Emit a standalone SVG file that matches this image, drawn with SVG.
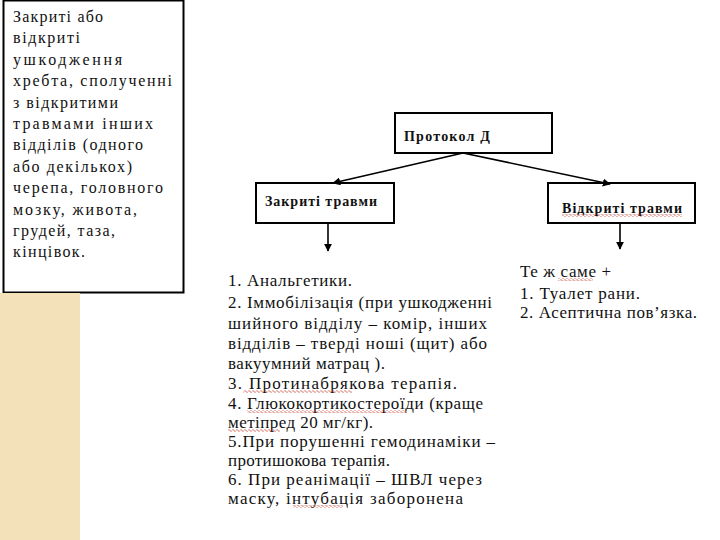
<svg xmlns="http://www.w3.org/2000/svg" width="720" height="540" viewBox="0 0 720 540">
<defs>
<style>
text{font-family:'Liberation Serif', 'DejaVu Serif', serif;}
.t{fill:#111;}
.side{font-size:16px;}
.lst{font-size:17px;}
.hd{font-size:14px;font-weight:bold;}
.box{fill:#fff;stroke:#000;stroke-width:2;}
.ln{stroke:#000;stroke-width:1.6;fill:none;marker-end:url(#ah);}
.wv{fill:url(#wave);}
</style>
<marker id="ah" viewBox="0 0 10 10" refX="9" refY="5" markerWidth="5" markerHeight="5" orient="auto" markerUnits="strokeWidth">
<path d="M0,0 L10,5 L0,10 Z" fill="#000"/>
</marker>
<pattern id="wave" width="4" height="3" patternUnits="userSpaceOnUse">
<path d="M0,1.5 L1,0.5 L3,2.5 L4,1.5" stroke="#c0392b" stroke-width="0.8" fill="none"/>
</pattern>
</defs>
<rect width="720" height="540" fill="#fff"/>
<g id="side-box">
<rect x="3.5" y="0.5" width="180" height="292" class="box"/>
<text class="t side">
<tspan x="13" y="22" textLength="90" lengthAdjust="spacing">Закриті або</tspan>
<tspan x="13" y="43.4" textLength="67" lengthAdjust="spacing">відкриті</tspan>
<tspan x="13" y="64.8" textLength="109" lengthAdjust="spacing">ушкодження</tspan>
<tspan x="13" y="86.2" textLength="159" lengthAdjust="spacing">хребта, сполученні</tspan>
<tspan x="13" y="107.6" textLength="105" lengthAdjust="spacing">з відкритими</tspan>
<tspan x="13" y="129" textLength="140" lengthAdjust="spacing">травмами інших</tspan>
<tspan x="13" y="150.4" textLength="130" lengthAdjust="spacing">відділів (одного</tspan>
<tspan x="13" y="171.8" textLength="119" lengthAdjust="spacing">або декількох)</tspan>
<tspan x="13" y="193.2" textLength="150" lengthAdjust="spacing">черепа, головного</tspan>
<tspan x="13" y="214.6" textLength="124" lengthAdjust="spacing">мозку, живота,</tspan>
<tspan x="13" y="236" textLength="102" lengthAdjust="spacing">грудей, таза,</tspan>
<tspan x="13" y="257.4" textLength="72" lengthAdjust="spacing">кінцівок.</tspan>
</text>
</g>
<rect id="beige-panel" x="0" y="293" width="80" height="247" fill="#f2e1b9"/>
<g id="protocol">
<rect x="395" y="113" width="157" height="40" class="box"/>
<text class="t hd" x="404" y="141" textLength="86" lengthAdjust="spacing">Протокол Д</text>
</g>
<g id="closed">
<rect x="256" y="183" width="138" height="40" class="box"/>
<text class="t hd" x="265" y="206" textLength="112" lengthAdjust="spacing">Закриті травми</text>
</g>
<g id="open">
<rect x="548" y="183" width="147" height="40" class="box"/>
<text class="t hd" x="562" y="213" textLength="120" lengthAdjust="spacing">Відкриті травми</text>
<rect x="562" y="214" width="120" height="3" class="wv"/>
</g>
<g id="connectors">
<line x1="463" y1="153" x2="333" y2="183" class="ln"/>
<line x1="463" y1="153" x2="610" y2="184" class="ln"/>
<line x1="328" y1="223" x2="328" y2="251" class="ln"/>
<line x1="620" y1="223" x2="620" y2="249" class="ln"/>
</g>
<g id="closed-list">
<text class="t lst">
<tspan x="228" y="286" textLength="124" lengthAdjust="spacing">1. Анальгетики.</tspan>
<tspan x="228" y="308" textLength="264" lengthAdjust="spacing">2. Іммобілізація (при ушкодженні</tspan>
<tspan x="228" y="329" textLength="259" lengthAdjust="spacing">шийного відділу – комір, інших</tspan>
<tspan x="228" y="349" textLength="259" lengthAdjust="spacing">відділів – тверді ноші (щит) або</tspan>
<tspan x="228" y="369" textLength="157" lengthAdjust="spacing">вакуумний матрац ).</tspan>
<tspan x="228" y="389" textLength="229" lengthAdjust="spacing">3. Протинабрякова терапія.</tspan>
<tspan x="228" y="409" textLength="255" lengthAdjust="spacing">4. Глюкокортикостероїди (краще</tspan>
<tspan x="228" y="428" textLength="145" lengthAdjust="spacing">метіпред  20 мг/кг).</tspan>
<tspan x="228" y="447" textLength="267" lengthAdjust="spacing">5.При порушенні гемодинаміки –</tspan>
<tspan x="228" y="466" textLength="162" lengthAdjust="spacing">протишокова терапія.</tspan>
<tspan x="228" y="485" textLength="254" lengthAdjust="spacing">6. При реанімації – ШВЛ через</tspan>
<tspan x="228" y="504" textLength="235" lengthAdjust="spacing">маску, інтубація заборонена</tspan>
</text>
<rect x="243" y="390" width="109" height="3" class="wv"/>
<rect x="247" y="410" width="160" height="3" class="wv"/>
<rect x="228" y="429" width="52" height="3" class="wv"/>
<rect x="293" y="505" width="50" height="3" class="wv"/>
</g>
<g id="open-list">
<text class="t lst">
<tspan x="520" y="277" textLength="91" lengthAdjust="spacing">Те ж саме +</tspan>
<tspan x="520" y="299" textLength="120" lengthAdjust="spacing">1. Туалет рани.</tspan>
<tspan x="520" y="318" textLength="177" lengthAdjust="spacing">2. Асептична пов’язка.</tspan>
</text>
<rect x="558" y="278" width="35" height="3" class="wv"/>
</g>
</svg>
